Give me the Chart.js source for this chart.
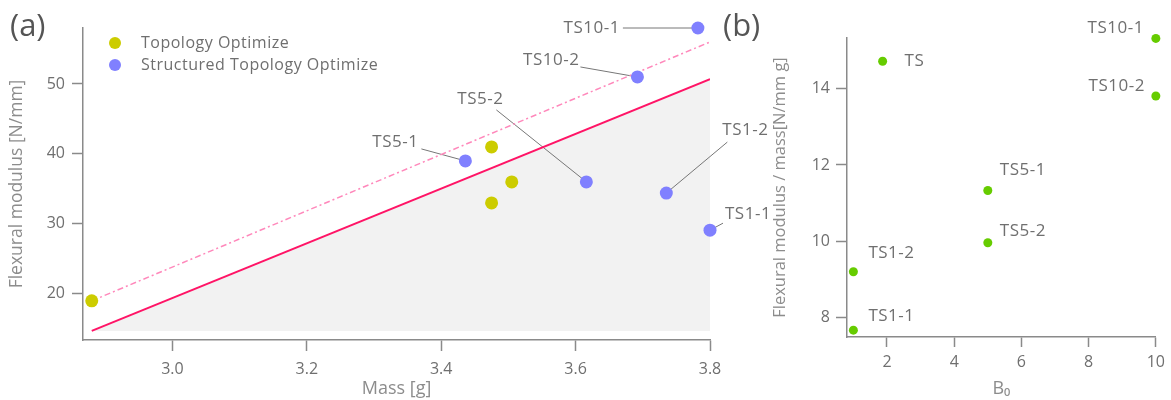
<!DOCTYPE html>
<html>
<head>
<meta charset="utf-8">
<script src="https://cdn.jsdelivr.net/npm/chart.js@4.4.1/dist/chart.umd.min.js"></script>
<style>
body { margin: 0; background: #fff; }
#wrap { position: relative; width: 1171px; height: 400px; overflow: hidden; }
canvas { position: absolute; top: 0; }
#chartA { left: 0; }
#chartB { left: 720px; }
</style>
</head>
<body>
<div id="wrap">
<canvas id="chartA" width="790" height="400"></canvas>
<canvas id="chartB" width="451" height="400"></canvas>
</div>
<script>
// (a) flexural modulus vs mass
const massTopo = [2.88, 3.475, 3.505, 3.475];
const modTopo = [19, 41, 36, 33];
const structNames = ['TS10-1', 'TS10-2', 'TS5-1', 'TS5-2', 'TS1-2', 'TS1-1'];
const massStruct = [3.782, 3.692, 3.436, 3.616, 3.735, 3.80];
const modStruct = [58.0, 51.0, 39.0, 36.0, 34.4, 29.1];
const fitMass = [2.88, 3.80];
const fitLower = [14.7, 50.7];
const fitUpper = [19.0, 56.0];
const massTicks = [3.0, 3.2, 3.4, 3.6, 3.8];
const modTicks = [20, 30, 40, 50];

// (b) modulus / mass vs B0
const bNames = ['TS', 'TS10-1', 'TS10-2', 'TS5-1', 'TS5-2', 'TS1-2', 'TS1-1'];
const b0 = [1.87, 10, 10, 5, 5, 1, 1];
const ratio = [14.72, 15.32, 13.81, 11.33, 9.96, 9.2, 7.67];
const b0Ticks = [2, 4, 6, 8, 10];
const ratioTicks = [8, 10, 12, 14];

// posicao dos rotulos em pixels, relativa ao ponto (texto dx/dy, inicio da linha lx/ly)
const calloutsA = [
    { dx: -78, dy: 0, align: 'right', lx: -75, ly: 0 },
    { dx: -58, dy: -17, align: 'right', lx: -57, ly: -10 },
    { dx: -47, dy: -19, align: 'right', lx: -44, ly: -12 },
    { dx: -106, dy: -83, align: 'center', lx: -90, ly: -72 },
    { dx: 56, dy: -63, align: 'left', lx: 61, ly: -51 },
    { dx: 15, dy: -16, align: 'left', lx: 13, ly: -7 }
];
const calloutsB = [
    { dx: 22, dy: 0, align: 'left' },
    { dx: -12, dy: -10, align: 'right' },
    { dx: -11, dy: -10, align: 'right' },
    { dx: 12, dy: -20, align: 'left' },
    { dx: 12, dy: -12, align: 'left' },
    { dx: 15, dy: -19, align: 'left' },
    { dx: 15, dy: -14, align: 'left' }
];

const FONT = "'Open Sans', sans-serif";
const TEXT = '#6f6f6f';
const AXIS = '#8a8a8a';
const TITLE = '#8c8c8c';
Chart.defaults.font.family = FONT;
Chart.defaults.color = TEXT;

const toXY = (xs, ys) => xs.map((x, i) => ({ x: x, y: ys[i] }));

function axis(min, max, ticks, fmt, title, titleSize, size, titlePad, tickLen, tickPad) {
    return {
        type: 'linear',
        min: min,
        max: max,
        afterBuildTicks: s => { s.ticks = ticks.map(v => ({ value: v })); },
        afterFit: s => { if (s.isHorizontal()) s.height = size; else s.width = size; },
        ticks: { callback: fmt, color: TEXT, font: { size: 16 }, padding: tickPad },
        grid: { drawOnChartArea: false, drawTicks: true, tickLength: tickLen, tickColor: AXIS, tickWidth: 1.5 },
        border: { display: true, color: AXIS, width: 1.5 },
        title: { display: true, text: title, color: TITLE, font: { size: titleSize }, padding: titlePad }
    };
}

// rotulo do painel "(a)" / "(b)"
function panelLabel(text, x) {
    return {
        id: 'panelLabel',
        afterDraw(chart) {
            const ctx = chart.ctx;
            ctx.save();
            ctx.font = '31px ' + FONT;
            ctx.fillStyle = '#555';
            ctx.textAlign = 'left';
            ctx.textBaseline = 'middle';
            ctx.fillText(text, x, 27);
            ctx.restore();
        }
    };
}

function labelFont(ctx, size) {
    ctx.font = size + 'px ' + FONT;
    ctx.letterSpacing = '0.5px';
}

const calloutPluginA = {
    id: 'calloutsA',
    beforeDatasetsDraw(chart) {
        const { ctx, scales: { x, y } } = chart;
        ctx.save();
        ctx.strokeStyle = '#777';
        ctx.lineWidth = 1;
        ctx.fillStyle = TEXT;
        labelFont(ctx, 17);
        ctx.textBaseline = 'middle';
        structNames.forEach((name, i) => {
            const px = x.getPixelForValue(massStruct[i]);
            const py = y.getPixelForValue(modStruct[i]);
            const c = calloutsA[i];
            ctx.beginPath();
            ctx.moveTo(px + c.lx, py + c.ly);
            ctx.lineTo(px, py);
            ctx.stroke();
            ctx.textAlign = c.align;
            ctx.fillText(name, px + c.dx, py + c.dy);
        });
        // legenda
        labelFont(ctx, 16);
        const ca = chart.chartArea;
        [2, 3].forEach((di, k) => {
            const ds = chart.data.datasets[di];
            const cy = ca.top + 15 + k * 22;
            ctx.beginPath();
            ctx.fillStyle = ds.backgroundColor;
            ctx.arc(ca.left + 32, cy, 6, 0, Math.PI * 2);
            ctx.fill();
            ctx.fillStyle = TEXT;
            ctx.textAlign = 'left';
            ctx.fillText(ds.label, ca.left + 58, cy);
        });
        ctx.restore();
    }
};

const calloutPluginB = {
    id: 'calloutsB',
    afterDatasetsDraw(chart) {
        const { ctx, scales: { x, y } } = chart;
        ctx.save();
        ctx.fillStyle = TEXT;
        labelFont(ctx, 17);
        ctx.textBaseline = 'middle';
        bNames.forEach((name, i) => {
            const c = calloutsB[i];
            ctx.textAlign = c.align;
            ctx.fillText(name, x.getPixelForValue(b0[i]) + c.dx, y.getPixelForValue(ratio[i]) + c.dy);
        });
        ctx.restore();
    }
};

new Chart(document.getElementById('chartA'), {
    type: 'scatter',
    data: {
        datasets: [
            {
                type: 'line',
                label: 'limit',
                data: toXY(fitMass, fitLower),
                borderColor: '#ff1466',
                borderWidth: 2,
                backgroundColor: '#f2f2f2',
                fill: { value: fitLower[0] },
                pointRadius: 0,
                order: 4
            },
            {
                type: 'line',
                label: 'upper',
                data: toXY(fitMass, fitUpper),
                borderColor: '#ff88bb',
                borderWidth: 1.5,
                borderDash: [6, 3, 2, 3],
                fill: false,
                pointRadius: 0,
                order: 3
            },
            {
                label: 'Topology Optimize',
                data: toXY(massTopo, modTopo),
                backgroundColor: '#cccc00',
                borderWidth: 0,
                pointRadius: 6.5,
                clip: false,
                order: 2
            },
            {
                label: 'Structured Topology Optimize',
                data: toXY(massStruct, modStruct),
                backgroundColor: '#8080ff',
                borderWidth: 0,
                pointRadius: 6.5,
                clip: false,
                order: 1
            }
        ]
    },
    options: {
        responsive: false,
        animation: false,
        layout: { padding: { top: 28, right: 80, left: 0, bottom: 0 } },
        scales: {
            x: axis(2.867, 3.8, massTicks, v => v.toFixed(1), 'Mass [g]', 18, 60, 0, 11, 9),
            y: axis(13.4, 58, modTicks, v => v, 'Flexural modulus [N/mm]', 17.5, 83, { top: 7 }, 11, 7)
        },
        plugins: {
            legend: { display: false },
            tooltip: { enabled: false },
            filler: { drawTime: 'beforeDraw' }
        }
    },
    plugins: [calloutPluginA, panelLabel('(a)', 10)]
});

new Chart(document.getElementById('chartB'), {
    type: 'scatter',
    data: {
        datasets: [{
            label: 'B0',
            data: toXY(b0, ratio),
            backgroundColor: '#66cc00',
            borderWidth: 0,
            pointRadius: 4.5,
            clip: false
        }]
    },
    options: {
        responsive: false,
        animation: false,
        layout: { padding: { top: 38, right: 9, left: 0, bottom: 0 } },
        scales: {
            x: axis(0.81, 10, b0Ticks, v => v, 'B\u2080', 18, 63, { bottom: 0 }, 10, 6),
            y: axis(7.49, 15.33, ratioTicks, v => v, 'Flexural modulus / mass[N/mm g]', 16.5, 127, { top: 50 }, 11, 6)
        },
        plugins: {
            legend: { display: false },
            tooltip: { enabled: false }
        }
    },
    plugins: [calloutPluginB, panelLabel('(b)', 3)]
});
</script>
</body>
</html>
